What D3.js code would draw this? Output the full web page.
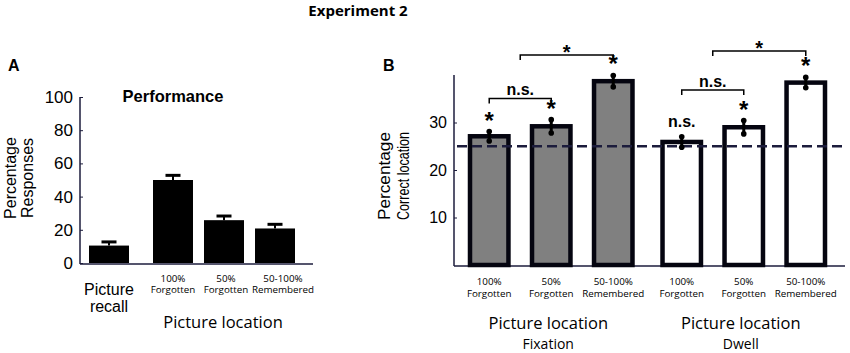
<!DOCTYPE html>
<html>
<head>
<meta charset="utf-8">
<script src="https://cdn.jsdelivr.net/npm/d3@7"></script>
<style>
  body { margin: 0; background: #fff; }
  text { fill: #000; }
</style>
</head>
<body>
<div id="chart"></div>
<script>
// panel A - performance
var recallCats = ["Picture recall"];
var recallVals = [10.5];
var recallErr = [2.2];
var locCats = ["100% Forgotten", "50% Forgotten", "50-100% Remembered"];
var locVals = [50, 25.8, 20.8];
var locErr = [2.8, 2.5, 2.5];
var ticksA = [0, 20, 40, 60, 80, 100];

// panel B - correct location
var groups = ["Fixation", "Dwell"];
var fixVals = [27.1, 29.2, 38.7];
var fixErr = [1.0, 1.4, 1.2];
var dwellVals = [25.9, 29.0, 38.4];
var dwellErr = [1.1, 1.4, 1.1];
var fixSig = ["*", "*", "*"];
var dwellSig = ["n.s.", "*", "*"];
var chance = 25;
var ticksB = [10, 20, 30];
var comparisons = [
  {group: "Fixation", from: 0, to: 1, label: "n.s."},
  {group: "Fixation", from: 0.5, to: 2, label: "*"},
  {group: "Dwell", from: 0, to: 1, label: "n.s."},
  {group: "Dwell", from: 0.5, to: 2, label: "*"}
];

var axisColor = "#1c1c3c";
var arial = "'Liberation Sans', Arial, sans-serif";
var segoe = "'Open Sans', 'Noto Sans', sans-serif";

var svg = d3.select("#chart").append("svg")
    .attr("width", 850)
    .attr("height", 353);

svg.append("text")
    .attr("x", 358).attr("y", 16)
    .attr("text-anchor", "middle")
    .style("font-family", segoe).style("font-weight", "bold").style("font-size", "15px")
    .text("Experiment 2");

// ---------- Panel A ----------
var gA = svg.append("g");

gA.append("text").attr("x", 8).attr("y", 71)
    .style("font-family", arial).style("font-weight", "bold").style("font-size", "16px")
    .text("A");

var yA = d3.scaleLinear().domain([0, 100]).range([263, 97]);
var xRecall = d3.scaleBand().domain(recallCats).range([89, 129]);
var xLoc = d3.scaleBand().domain(locCats).range([153, 295]).paddingInner(0.216);

gA.append("g")
    .attr("transform", "translate(80,0)")
    .call(d3.axisLeft(yA).tickValues(ticksA).tickSize(-3).tickPadding(7))
    .call(g => g.select(".domain").attr("stroke", axisColor).attr("stroke-width", 1.5).attr("d", "M0," + yA(100) + "V" + (yA(0) + 1)))
    .call(g => g.selectAll(".tick line").attr("stroke", axisColor))
    .call(g => g.selectAll(".tick text").style("font-family", arial).style("font-size", "17px").attr("fill", "#000"));

gA.append("line")
    .attr("x1", 80).attr("x2", 313)
    .attr("y1", yA(0) + 1).attr("y2", yA(0) + 1)
    .attr("stroke", axisColor).attr("stroke-width", 1.5);

gA.append("text").attr("x", 173).attr("y", 102)
    .attr("text-anchor", "middle")
    .style("font-family", arial).style("font-weight", "bold").style("font-size", "16.5px")
    .text("Performance");

var barsA = recallCats.map((c, i) => ({x: xRecall(c), w: xRecall.bandwidth(), v: recallVals[i], e: recallErr[i]}))
  .concat(locCats.map((c, i) => ({x: xLoc(c), w: xLoc.bandwidth(), v: locVals[i], e: locErr[i]})));

gA.selectAll(".barA").data(barsA).enter().append("rect")
    .attr("x", d => d.x).attr("width", d => d.w)
    .attr("y", d => yA(d.v)).attr("height", d => yA(0) - yA(d.v))
    .attr("fill", "#000");

gA.selectAll(".stemA").data(barsA).enter().append("line")
    .attr("x1", d => d.x + d.w / 2).attr("x2", d => d.x + d.w / 2)
    .attr("y1", d => yA(d.v)).attr("y2", d => yA(d.v + d.e))
    .attr("stroke", "#000").attr("stroke-width", 2);

gA.selectAll(".capA").data(barsA).enter().append("line")
    .attr("x1", d => d.x + d.w / 2 - 7.5).attr("x2", d => d.x + d.w / 2 + 7.5)
    .attr("y1", d => yA(d.v + d.e)).attr("y2", d => yA(d.v + d.e))
    .attr("stroke", "#000").attr("stroke-width", 3);

gA.selectAll(".recallLab").data(["Picture", "recall"]).enter().append("text")
    .attr("x", xRecall(recallCats[0]) + xRecall.bandwidth() / 2)
    .attr("y", (d, i) => 295 + i * 17)
    .attr("text-anchor", "middle")
    .style("font-family", arial).style("font-size", "16px")
    .text(d => d);

function smallLabel(g, x, label, y0, dx) {
  var parts = [label.split(" ")[0], label.split(" ").slice(1).join(" ")];
  g.selectAll(null).data(parts).enter().append("text")
      .attr("x", x + (dx || 0)).attr("y", (d, i) => y0 + i * 11.5)
      .attr("text-anchor", "middle")
      .style("font-family", segoe).style("font-size", "9.8px")
      .text(d => d);
}

locCats.forEach((c, i) => smallLabel(gA, xLoc(c) + xLoc.bandwidth() / 2, c, 281.5, i === 2 ? 8 : i === 1 ? 2 : 0));

gA.append("text").attr("x", 223).attr("y", 328)
    .attr("text-anchor", "middle")
    .style("font-family", segoe).style("font-size", "16.5px")
    .text("Picture location");

gA.selectAll(".ylabA").data(["Percentage", "Responses"]).enter().append("text")
    .attr("transform", (d, i) => "translate(" + (16 + i * 17) + ",178) rotate(-90)")
    .attr("text-anchor", "middle")
    .style("font-family", arial).style("font-size", "16px")
    .text(d => d);

// ---------- Panel B ----------
var gB = svg.append("g");

gB.append("text").attr("x", 383).attr("y", 71)
    .style("font-family", arial).style("font-weight", "bold").style("font-size", "16px")
    .text("B");

var yB = d3.scaleLinear().domain([0, 40]).range([265, 75]);
var xGroup = d3.scaleBand().domain(groups).range([470, 825]).paddingInner(0.156);
var xCond = d3.scaleBand().domain(locCats).range([0, xGroup.bandwidth()]).paddingInner(0.38);

gB.append("g")
    .attr("transform", "translate(454,0)")
    .call(d3.axisLeft(yB).tickValues(ticksB).tickSize(-3).tickPadding(7))
    .call(g => g.select(".domain").attr("stroke", axisColor).attr("stroke-width", 1.5).attr("d", "M0," + yB(40) + "V" + (yB(0) + 1)))
    .call(g => g.selectAll(".tick line").attr("stroke", axisColor))
    .call(g => g.selectAll(".tick text").style("font-family", arial).style("font-size", "16px").attr("fill", "#000"));

gB.append("line")
    .attr("x1", 454).attr("x2", 845)
    .attr("y1", yB(0) + 1).attr("y2", yB(0) + 1)
    .attr("stroke", axisColor).attr("stroke-width", 1.5);

var barsB = [];
groups.forEach((g, gi) => {
  var vals = gi === 0 ? fixVals : dwellVals;
  var errs = gi === 0 ? fixErr : dwellErr;
  var sig = gi === 0 ? fixSig : dwellSig;
  locCats.forEach((c, i) => {
    barsB.push({group: g, cond: c, x: xGroup(g) + xCond(c), w: xCond.bandwidth(),
                v: vals[i], e: errs[i], sig: sig[i], fill: gi === 0 ? "#808080" : "#fff"});
  });
});

gB.selectAll(".barB").data(barsB).enter().append("rect")
    .attr("x", d => d.x).attr("width", d => d.w)
    .attr("y", d => yB(d.v)).attr("height", d => yB(0) - yB(d.v))
    .attr("fill", d => d.fill)
    .attr("stroke", "#050510").attr("stroke-width", 4.5);

gB.append("line")
    .attr("x1", 457).attr("x2", 845)
    .attr("y1", yB(chance)).attr("y2", yB(chance))
    .attr("stroke", axisColor).attr("stroke-width", 2.5)
    .attr("stroke-dasharray", "10,5");

gB.selectAll(".errB").data(barsB).enter().append("line")
    .attr("x1", d => d.x + d.w / 2).attr("x2", d => d.x + d.w / 2)
    .attr("y1", d => yB(d.v - d.e)).attr("y2", d => yB(d.v + d.e))
    .attr("stroke", "#000").attr("stroke-width", 3);

gB.selectAll(".dotB").data(barsB.flatMap(d => [{x: d.x + d.w / 2, v: d.v - d.e}, {x: d.x + d.w / 2, v: d.v + d.e}]))
  .enter().append("circle")
    .attr("cx", d => d.x).attr("cy", d => yB(d.v)).attr("r", 2.8)
    .attr("fill", "#000");

gB.selectAll(".sigB").data(barsB).enter().append("text")
    .attr("x", d => d.x + d.w / 2)
    .attr("y", d => yB(d.v + d.e) - (d.sig === "*" ? 3 : 10))
    .attr("text-anchor", "middle")
    .style("font-family", arial).style("font-weight", "bold")
    .style("font-size", d => d.sig === "*" ? "24px" : "16px")
    .text(d => d.sig);

// brackets
var bracketY = [98.5, 55, 90, 51];
comparisons.forEach((c, i) => {
  var cx = k => xGroup(c.group) + xCond.step() * k + xCond.bandwidth() / 2;
  var x1 = cx(c.from), x2 = cx(c.to), y = bracketY[i];
  gB.append("path")
      .attr("d", "M" + x1 + "," + (y + 5) + "V" + y + "H" + x2 + "V" + (y + 5))
      .attr("fill", "none").attr("stroke", "#000").attr("stroke-width", 1.5);
  gB.append("text")
      .attr("x", (x1 + x2) / 2)
      .attr("y", c.label === "*" ? y + 4 : y - 3.5)
      .attr("text-anchor", "middle")
      .style("font-family", arial).style("font-weight", "bold")
      .style("font-size", c.label === "*" ? "20px" : "16px")
      .text(c.label);
});

locCats.forEach(c => groups.forEach(g => smallLabel(gB, xGroup(g) + xCond(c) + xCond.bandwidth() / 2, c, 285)));

groups.forEach(g => {
  var cx = xGroup(g) + xGroup.bandwidth() / 2;
  gB.append("text").attr("x", cx - 3).attr("y", 329)
      .attr("text-anchor", "middle")
      .style("font-family", segoe).style("font-size", "16.5px")
      .text("Picture location");
  gB.append("text").attr("x", cx - 3).attr("y", 349)
      .attr("text-anchor", "middle")
      .style("font-family", segoe).style("font-size", "14px")
      .text(g);
});

gB.selectAll(".ylabB").data(["Percentage", "Correct location"]).enter().append("text")
    .attr("transform", (d, i) => "translate(" + (390 + i * 19) + ",176) rotate(-90)")
    .attr("text-anchor", "middle")
    .attr("textLength", 88).attr("lengthAdjust", "spacingAndGlyphs")
    .style("font-family", (d, i) => i === 1 ? "'Liberation Sans Narrow', " + arial : arial)
    .style("font-size", "16px")
    .text(d => d);
</script>
</body>
</html>
